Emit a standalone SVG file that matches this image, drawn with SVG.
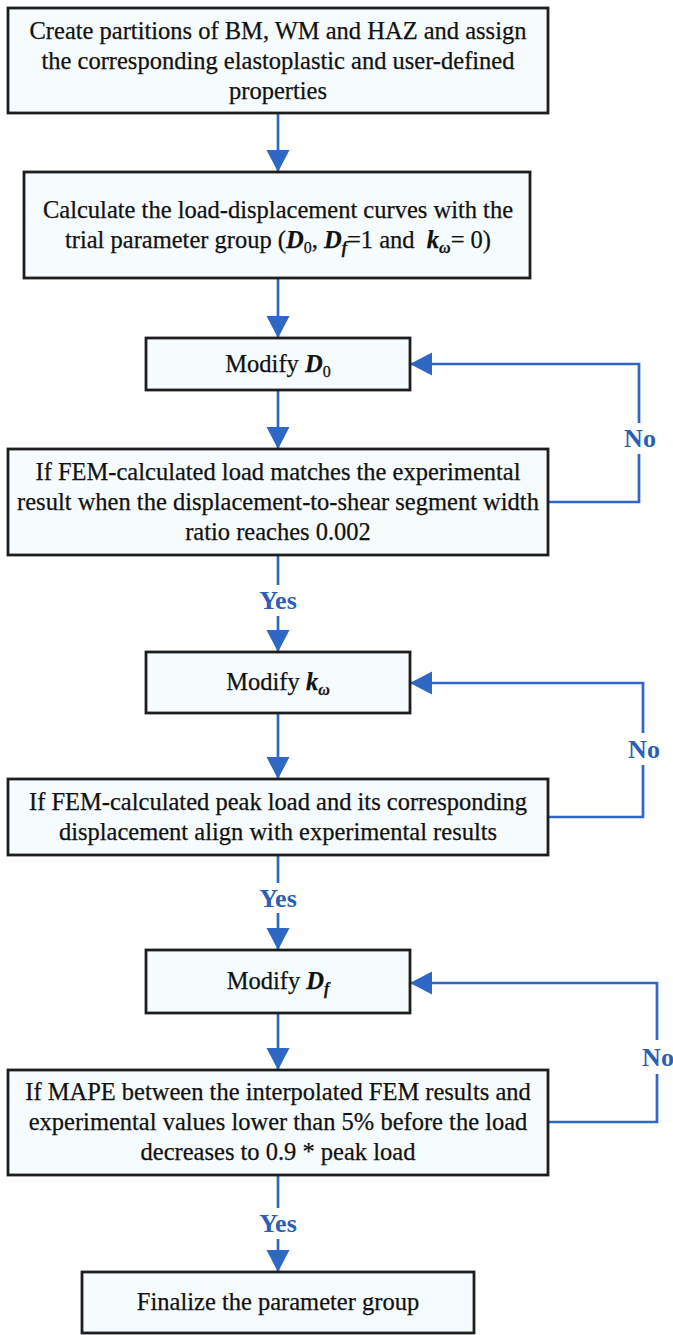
<svg xmlns="http://www.w3.org/2000/svg" width="673" height="1335" viewBox="0 0 673 1335">
<style>
.box{fill:#f6fbfd;stroke:#1e1e1e;stroke-width:2.8}
.t{font-family:'Liberation Serif','Tinos','Times New Roman','DejaVu Serif',serif;font-size:24.5px;fill:#111;stroke:#111;stroke-width:0.25;text-anchor:middle}
.m{font-weight:bold;font-style:italic}
.s{font-size:16px}
.c{fill:none;stroke:#2f67c4;stroke-width:2.7}
.lbl{font-family:'Liberation Serif','Tinos','Times New Roman','DejaVu Serif',serif;font-size:26px;font-weight:bold;fill:#2c5fb3;text-anchor:middle}
</style>
<defs>
<marker id="ah" markerUnits="userSpaceOnUse" markerWidth="24" markerHeight="24" refX="22" refY="11.5" orient="auto">
<path d="M0,0 L22,11.5 L0,23 z" fill="#2f67c4"/>
</marker>
</defs>
<rect width="673" height="1335" fill="#ffffff"/>
<g id="connectors">
<line class="c" x1="278" y1="113" x2="278" y2="172" marker-end="url(#ah)"/>
<line class="c" x1="278" y1="278" x2="278" y2="338" marker-end="url(#ah)"/>
<line class="c" x1="278" y1="390" x2="278" y2="449" marker-end="url(#ah)"/>
<line class="c" x1="278" y1="555" x2="278" y2="585"/>
<line class="c" x1="278" y1="616" x2="278" y2="652" marker-end="url(#ah)"/>
<line class="c" x1="278" y1="713" x2="278" y2="779" marker-end="url(#ah)"/>
<line class="c" x1="278" y1="855" x2="278" y2="883"/>
<line class="c" x1="278" y1="913" x2="278" y2="950" marker-end="url(#ah)"/>
<line class="c" x1="278" y1="1013" x2="278" y2="1070" marker-end="url(#ah)"/>
<line class="c" x1="278" y1="1175" x2="278" y2="1208"/>
<line class="c" x1="278" y1="1239" x2="278" y2="1272" marker-end="url(#ah)"/>
<path class="c" d="M548,502 H639 V454"/>
<path class="c" d="M639,423 V364 H410" marker-end="url(#ah)"/>
<path class="c" d="M548,817 H643 V765"/>
<path class="c" d="M643,733 V683 H410" marker-end="url(#ah)"/>
<path class="c" d="M548,1122 H657 V1074"/>
<path class="c" d="M657,1040 V983 H410" marker-end="url(#ah)"/>
<text class="lbl" x="640" y="447">No</text>
<text class="lbl" x="644" y="758">No</text>
<text class="lbl" x="658" y="1066">No</text>
<text class="lbl" x="278" y="609">Yes</text>
<text class="lbl" x="278" y="907">Yes</text>
<text class="lbl" x="278" y="1232">Yes</text>
</g>
<g id="n1">
<rect class="box" x="8" y="8" width="540" height="105"/>
<text class="t" x="278" y="39">Create partitions of BM, WM and HAZ and assign</text>
<text class="t" x="278" y="69">the corresponding elastoplastic and user-defined</text>
<text class="t" x="278" y="99">properties</text>
</g>
<g id="n2">
<rect class="box" x="24" y="172" width="506" height="106"/>
<text class="t" x="278" y="218">Calculate the load-displacement curves with the</text>
<text class="t" x="278" y="248">trial parameter group (<tspan class="m">D</tspan><tspan class="s" dy="5">0</tspan><tspan dy="-5">, </tspan><tspan class="m">D</tspan><tspan class="m s" dy="5">f</tspan><tspan dy="-5">=1 and&#160; </tspan><tspan class="m">k</tspan><tspan class="m s" dy="5">ω</tspan><tspan dy="-5">= 0)</tspan></text>
</g>
<g id="n3">
<rect class="box" x="146" y="338" width="264" height="52"/>
<text class="t" x="278" y="372">Modify <tspan class="m">D</tspan><tspan class="s" dy="5">0</tspan></text>
</g>
<g id="n4">
<rect class="box" x="8" y="449" width="540" height="106"/>
<text class="t" x="278" y="480">If FEM-calculated load matches the experimental</text>
<text class="t" x="278" y="510">result when the displacement-to-shear segment width</text>
<text class="t" x="278" y="540">ratio reaches 0.002</text>
</g>
<g id="n5">
<rect class="box" x="146" y="652" width="264" height="61"/>
<text class="t" x="278" y="690">Modify <tspan class="m">k</tspan><tspan class="m s" dy="5">ω</tspan></text>
</g>
<g id="n6">
<rect class="box" x="8" y="779" width="540" height="76"/>
<text class="t" x="278" y="810">If FEM-calculated peak load and its corresponding</text>
<text class="t" x="278" y="840">displacement align with experimental results</text>
</g>
<g id="n7">
<rect class="box" x="146" y="950" width="264" height="63"/>
<text class="t" x="278" y="989">Modify <tspan class="m">D</tspan><tspan class="m s" dy="5">f</tspan></text>
</g>
<g id="n8">
<rect class="box" x="8" y="1070" width="540" height="105"/>
<text class="t" x="278" y="1100">If MAPE between the interpolated FEM results and</text>
<text class="t" x="278" y="1130">experimental values lower than 5% before the load</text>
<text class="t" x="278" y="1160">decreases to 0.9 * peak load</text>
</g>
<g id="n9">
<rect class="box" x="82" y="1272" width="392" height="61"/>
<text class="t" x="278" y="1310">Finalize the parameter group</text>
</g>
</svg>
